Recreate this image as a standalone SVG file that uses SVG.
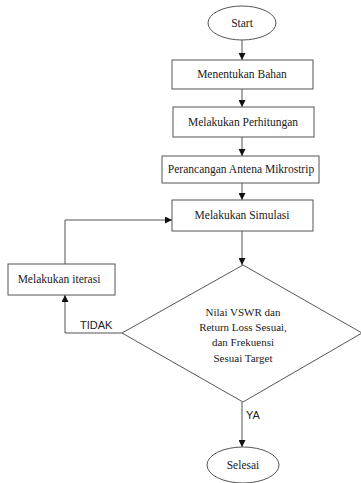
<svg xmlns="http://www.w3.org/2000/svg" width="361" height="483" viewBox="0 0 361 483">
<defs>
<marker id="ah" viewBox="0 0 10 10" refX="10" refY="5" markerWidth="7" markerHeight="7" markerUnits="userSpaceOnUse" orient="auto">
<path d="M0,0 L10,5 L0,10 z" fill="#111"/>
</marker>
<style>
.shape{fill:#fff;stroke:#555;stroke-width:1}
.t{font-family:"Liberation Serif","Times New Roman",serif;font-size:11.5px;fill:#1a1a1a;text-anchor:middle}
.d{font-size:11px}
.s{font-family:"Liberation Sans",Arial,sans-serif;font-size:11px;fill:#222}
.c{fill:none;stroke:#555;stroke-width:1;marker-end:url(#ah)}
</style>
</defs>
<rect width="361" height="483" fill="#fff"/>
<g id="connectors">
<line class="c" x1="242" y1="40" x2="242" y2="60"/>
<line class="c" x1="242" y1="89" x2="242" y2="107"/>
<line class="c" x1="242" y1="137" x2="242" y2="156"/>
<line class="c" x1="242" y1="183" x2="242" y2="200"/>
<line class="c" x1="242" y1="231" x2="242" y2="265"/>
<polyline class="c" points="122,333 65,333 65,295"/>
<polyline class="c" points="65,264 65,220 172,220"/>
<line class="c" x1="242" y1="402" x2="242" y2="447"/>
<text class="s" x="80" y="329">TIDAK</text>
<text class="s" x="246" y="419">YA</text>
</g>
<g id="start">
<ellipse class="shape" cx="242" cy="23" rx="34" ry="17"/>
<text class="t" x="242" y="27">Start</text>
</g>
<g id="menentukan">
<rect class="shape" x="172" y="60" width="141" height="29"/>
<text class="t" x="242" y="78">Menentukan Bahan</text>
</g>
<g id="perhitungan">
<rect class="shape" x="173" y="107" width="141" height="30"/>
<text class="t" x="243" y="126">Melakukan Perhitungan</text>
</g>
<g id="perancangan">
<rect class="shape" x="162" y="156" width="157" height="27"/>
<text class="t" x="241" y="173">Perancangan Antena Mikrostrip</text>
</g>
<g id="simulasi">
<rect class="shape" x="172" y="200" width="141" height="31"/>
<text class="t" x="242" y="219">Melakukan Simulasi</text>
</g>
<g id="iterasi">
<rect class="shape" x="8" y="264" width="107" height="31"/>
<text class="t" x="59" y="283">Melakukan iterasi</text>
</g>
<g id="decision">
<polygon class="shape" points="243,265 362,333 243,402 122,333"/>
<text class="t d" x="243" y="316">Nilai VSWR dan</text>
<text class="t d" x="243" y="331">Return Loss Sesuai,</text>
<text class="t d" x="243" y="346">dan Frekuensi</text>
<text class="t d" x="243" y="362">Sesuai Target</text>
</g>
<g id="selesai">
<ellipse class="shape" cx="243" cy="465" rx="36" ry="18"/>
<text class="t" x="243" y="469">Selesai</text>
</g>
</svg>
